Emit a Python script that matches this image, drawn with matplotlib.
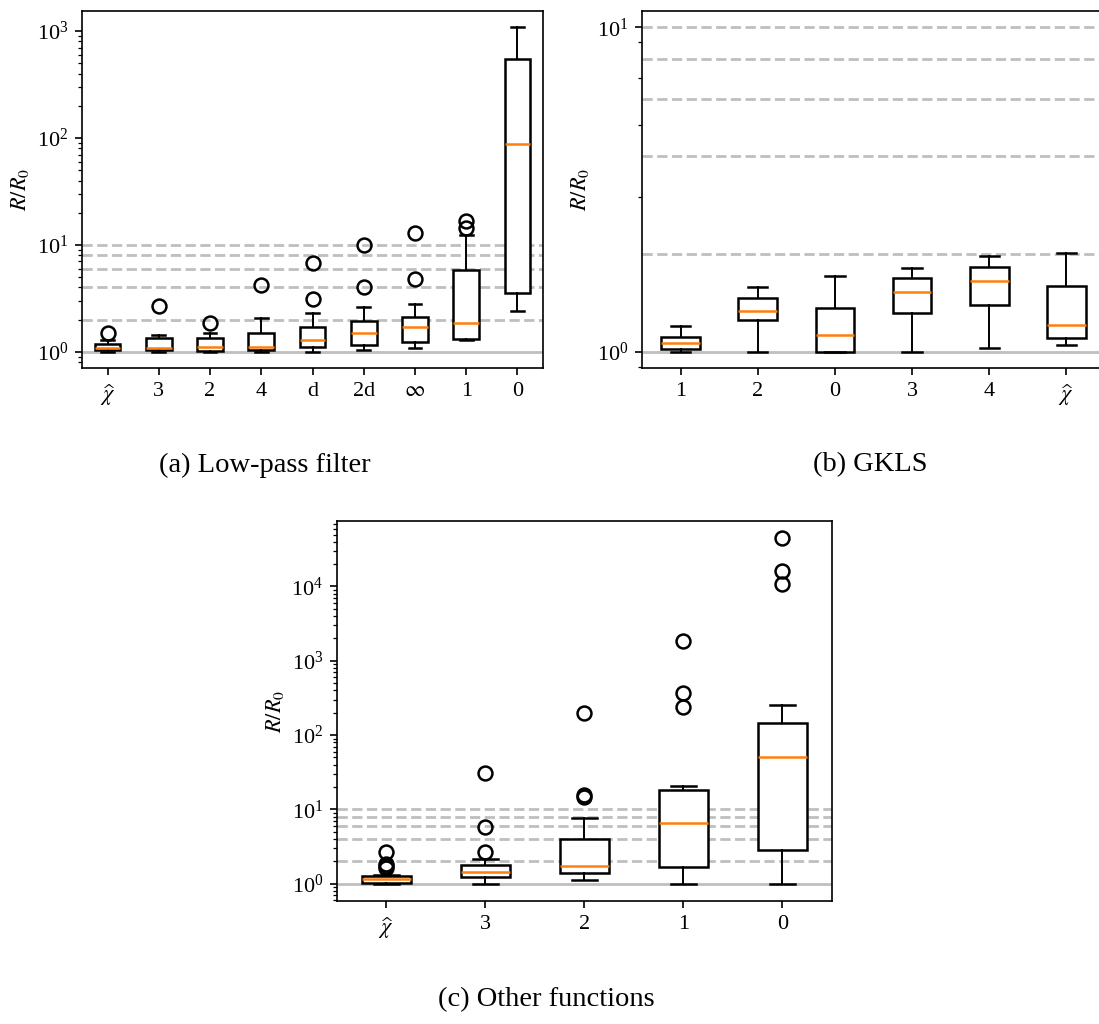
import matplotlib
matplotlib.use("Agg")
import matplotlib.pyplot as plt
from matplotlib.ticker import FixedLocator

plt.rcParams['font.family'] = ['Liberation Serif', 'DejaVu Serif']
plt.rcParams['mathtext.fontset'] = 'stix'
plt.rcParams['font.size'] = 16

CHI = r'$\widehat{\chi}$'

# (a) Low-pass filter
lp_labels = [CHI, '3', '2', '4', 'd', '2d', r'$\infty$', '1', '0']
lp_whislo = [1.0, 1.0, 1.0, 1.0, 1.0, 1.04, 1.09, 1.29, 2.40]
lp_q1 = [1.03, 1.03, 1.02, 1.05, 1.12, 1.17, 1.24, 1.31, 3.55]
lp_med = [1.085, 1.08, 1.11, 1.10, 1.28, 1.49, 1.69, 1.87, 87.0]
lp_q3 = [1.19, 1.34, 1.35, 1.50, 1.69, 1.93, 2.10, 5.78, 545.0]
lp_whishi = [1.30, 1.43, 1.51, 2.09, 2.32, 2.61, 2.78, 12.4, 1086.0]
lp_fliers = [[1.50], [2.71], [1.86], [4.25], [6.7, 3.11], [10.0, 4.03],
             [12.9, 4.79], [16.9, 14.4], []]

# (b) GKLS
gk_labels = ['1', '2', '0', '3', '4', CHI]
gk_whislo = [1.0, 1.0, 1.0, 1.0, 1.03, 1.046]
gk_q1 = [1.02, 1.25, 1.0, 1.32, 1.39, 1.10]
gk_med = [1.064, 1.34, 1.128, 1.53, 1.65, 1.21]
gk_q3 = [1.11, 1.46, 1.36, 1.69, 1.82, 1.60]
gk_whishi = [1.20, 1.58, 1.71, 1.81, 1.97, 2.01]
gk_fliers = [[], [], [], [], [], []]

# (c) Other functions
of_labels = [CHI, '3', '2', '1', '0']
of_whislo = [1.0, 1.0, 1.12, 1.0, 1.0]
of_q1 = [1.03, 1.24, 1.38, 1.69, 2.83]
of_med = [1.155, 1.43, 1.74, 6.52, 50.7]
of_q3 = [1.29, 1.76, 3.98, 18.5, 146.5]
of_whishi = [1.30, 2.17, 7.69, 20.9, 253.0]
of_fliers = [[2.66, 1.84, 1.72, 1.62], [30.6, 5.88, 2.66], [199.0, 15.7, 14.9],
             [1866.0, 370.0, 240.0], [44500.0, 16400.0, 10860.0]]

ref_lines = [2, 4, 6, 8, 10]


def make_stats(labels, whislo, q1, med, q3, whishi, fliers):
    stats = []
    for i in range(len(labels)):
        stats.append({'label': labels[i], 'whislo': whislo[i], 'q1': q1[i],
                      'med': med[i], 'q3': q3[i], 'whishi': whishi[i],
                      'fliers': fliers[i]})
    return stats


def draw_panel(ax, stats):
    ax.set_yscale('log')
    for v in ref_lines:
        ax.axhline(v, color='0.75', ls='--', lw=2.0, zorder=0)
    ax.axhline(1, color='0.75', lw=2.0, zorder=0)
    ax.bxp(stats, patch_artist=True,
           boxprops=dict(facecolor='white', edgecolor='black', linewidth=1.8),
           whiskerprops=dict(linewidth=1.4),
           capprops=dict(linewidth=1.8),
           medianprops=dict(color='#ff7f0e', linewidth=1.8),
           flierprops=dict(marker='o', markersize=10, markeredgewidth=1.8,
                           markerfacecolor='none', markeredgecolor='black'))
    ax.set_ylabel(r'$R/R_0$')
    ax.tick_params(which='major', length=5, width=1.2, pad=5)
    ax.tick_params(which='minor', length=3, width=0.9)
    for s in ax.spines.values():
        s.set_linewidth(1.2)


fig = plt.figure(figsize=(10.99, 10.24), dpi=100)
ax_a = fig.add_axes([0.0746, 0.6406, 0.4195, 0.3486])
ax_b = fig.add_axes([0.5842, 0.6406, 0.4213, 0.3486])
ax_c = fig.add_axes([0.3066, 0.1201, 0.4504, 0.3711])

draw_panel(ax_a, make_stats(lp_labels, lp_whislo, lp_q1, lp_med, lp_q3, lp_whishi, lp_fliers))
draw_panel(ax_b, make_stats(gk_labels, gk_whislo, gk_q1, gk_med, gk_q3, gk_whishi, gk_fliers))
draw_panel(ax_c, make_stats(of_labels, of_whislo, of_q1, of_med, of_q3, of_whishi, of_fliers))
ax_b.yaxis.set_minor_locator(FixedLocator([0.9, 3, 5, 7, 9]))

fig.text(0.241, 1 - 465 / 1024, '(a) Low-pass filter', ha='center', va='center', fontsize=20.5)
fig.text(0.792, 1 - 465 / 1024, '(b) GKLS', ha='center', va='center', fontsize=20.5)
fig.text(0.497, 1 - 1000 / 1024, '(c) Other functions', ha='center', va='center', fontsize=20.5)

fig.savefig('out.png', dpi=100)
